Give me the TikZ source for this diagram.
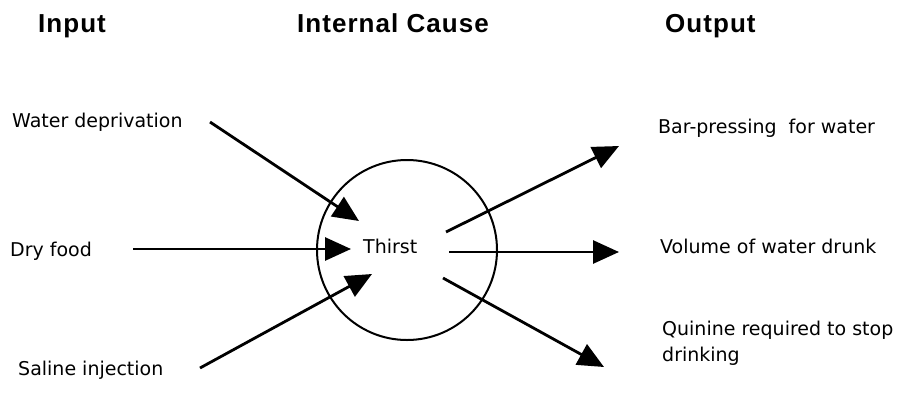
\documentclass[tikz,border=0pt]{standalone}
\usepackage{fontspec}
\setmainfont{DejaVu Sans}
\newfontfamily\headfont[LetterSpace=4]{Liberation Sans}
\usetikzlibrary{arrows.meta}
\tikzset{
  lbl/.style={anchor=base west, inner sep=0pt, font=\fontsize{19}{26}\selectfont, align=left},
  head/.style={anchor=base west, inner sep=0pt, font=\headfont\bfseries\fontsize{26}{30}\selectfont},
  arr/.style={line width=2.8pt, -{Triangle[length=26pt,width=23pt]}},
  cause/.style={circle, draw, line width=2pt, minimum size=180pt, inner sep=0pt}
}
\begin{document}
\begin{tikzpicture}[x=1pt,y=-1pt]
\useasboundingbox (0,0) rectangle (902,416);
% headings
\node[head] (hin) at (38,32) {Input};
\node[head] (hcause) at (297,32) {Internal Cause};
\node[head] (hout) at (665,32) {Output};
% circle
\node[cause] (c) at (407,250) {};
\node[lbl] (thirst) at (363,253) {Thirst};
% inputs
\node[lbl] (wd) at (12,127) {Water deprivation};
\node[lbl] (df) at (10,256) {Dry food};
\node[lbl] (si) at (18,375) {Saline injection};
% outputs
\node[lbl] (bp) at (658,133) {Bar-pressing\ \ for water};
\node[lbl] (vw) at (660,253) {Volume of water drunk};
\node[lbl] (qr) at (662,361) {Quinine required to stop\\drinking};
% arrow end points
\coordinate (wds) at (210,122);
\coordinate (wdt) at (359,221);
\coordinate (dfs) at (133,249);
\coordinate (dft) at (351,249);
\coordinate (sis) at (200,368);
\coordinate (sit) at (372,274);
\coordinate (bps) at (446,232);
\coordinate (bpt) at (619,146);
\coordinate (vws) at (449,252);
\coordinate (vwt) at (619,252);
\coordinate (qrs) at (443,278);
\coordinate (qrt) at (604,367);
\draw[arr] (wds) -- (wdt);
\draw[arr] (dfs) -- (dft);
\draw[arr] (sis) -- (sit);
\draw[arr] (bps) -- (bpt);
\draw[arr] (vws) -- (vwt);
\draw[arr] (qrs) -- (qrt);
\end{tikzpicture}
\end{document}
